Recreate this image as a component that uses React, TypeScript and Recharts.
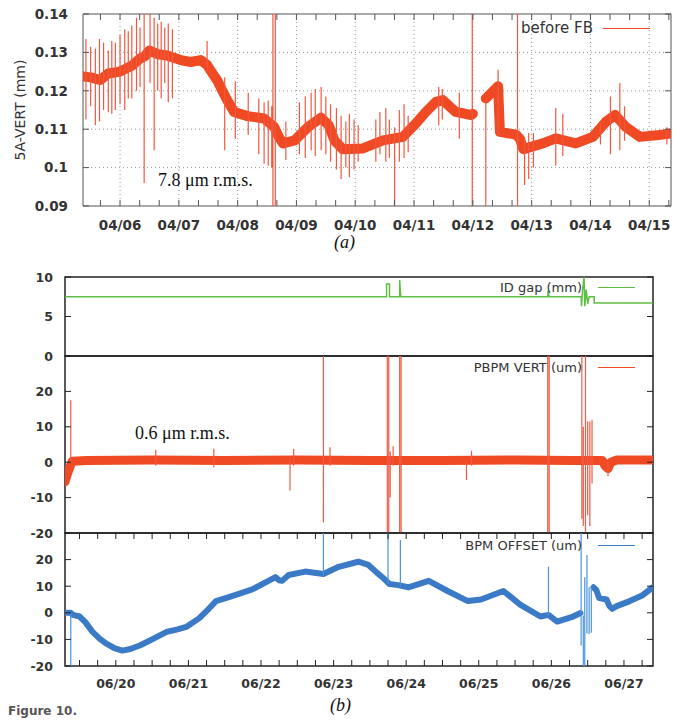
import React from "react"
import { LineChart, Line, XAxis, YAxis, CartesianGrid, ReferenceArea, Legend } from "recharts"

const SANS = "'DejaVu Sans', Verdana, sans-serif"
const SERIF = "'Liberation Serif', 'Times New Roman', serif"
const INK = "#333"

// ---- (a) 5A-VERT before feedback, April (day of month) ----
const aDays = [
  5.37, 5.5, 5.66, 5.8, 6.0, 6.2, 6.34, 6.42, 6.5, 6.65, 6.8, 7.03, 7.2, 7.37, 7.48, 7.56, 7.65, 7.74, 7.82, 7.94,
  8.17, 8.45, 8.62, 8.7, 8.77, 8.97, 9.2, 9.42, 9.55, 9.65, 9.79, 10.13, 10.47, 10.81, 11.03, 11.2, 11.37, 11.49, 11.6, 11.71,
  11.97, 12.0, 12.1, 12.22, 12.39, 12.43, 12.46, 12.73, 12.8, 12.86, 13.19, 13.41, 13.75, 14.04, 14.26, 14.42, 14.6, 14.84, 15.12, 15.37,
]
const aVert = [
  0.1237, 0.1235, 0.1228, 0.1245, 0.125, 0.1265, 0.1284, 0.129, 0.1305, 0.1295, 0.1292, 0.128, 0.1275, 0.128, 0.1267, 0.1248, 0.1228, 0.12, 0.1176, 0.1145,
  0.1134, 0.1128, 0.1106, 0.108, 0.1063, 0.1071, 0.1106, 0.113, 0.111, 0.107, 0.1048, 0.105, 0.1071, 0.108, 0.1115, 0.1145, 0.1171, 0.1176, 0.116, 0.1145,
  0.1137, 0.114, null, 0.118, 0.1206, 0.1212, 0.1093, 0.1086, 0.1075, 0.1048, 0.1063, 0.1076, 0.1063, 0.108, 0.1119, 0.1137, 0.1106, 0.108, 0.1084, 0.1089,
]
// [day, low, high]
const aSpikes = [
  [5.42, 0.1125, 0.1335], [5.5, 0.116, 0.1315], [5.58, 0.111, 0.131], [5.65, 0.112, 0.1335], [5.72, 0.115, 0.1325],
  [5.8, 0.1145, 0.1305], [5.86, 0.114, 0.133], [5.92, 0.115, 0.1325], [6.0, 0.1165, 0.1345], [6.08, 0.115, 0.136],
  [6.14, 0.118, 0.1355], [6.2, 0.118, 0.137], [6.28, 0.12, 0.139], [6.34, 0.121, 0.1365], [6.41, 0.096, 0.14],
  [6.51, 0.122, 0.14], [6.58, 0.1045, 0.139], [6.64, 0.12, 0.1375], [6.7, 0.118, 0.138], [6.76, 0.122, 0.1365],
  [6.82, 0.117, 0.1375], [6.89, 0.118, 0.136], [7.48, 0.125, 0.133], [7.78, 0.1045, 0.1235], [7.96, 0.1075, 0.1225],
  [8.18, 0.1085, 0.1195], [8.36, 0.1035, 0.118], [8.45, 0.101, 0.117], [8.52, 0.1005, 0.1175], [8.58, 0.1, 0.116],
  [8.6, 0.09, 0.14], [8.64, 0.09, 0.14], [8.82, 0.102, 0.112], [9.05, 0.1035, 0.117], [9.15, 0.1025, 0.1185],
  [9.25, 0.1045, 0.1195], [9.32, 0.103, 0.1205], [9.42, 0.1045, 0.121], [9.5, 0.1035, 0.1185], [9.58, 0.1015, 0.1165],
  [9.68, 0.0995, 0.1155], [9.76, 0.097, 0.1135], [9.84, 0.1, 0.112], [9.9, 0.0975, 0.114], [9.98, 0.0995, 0.1125],
  [10.05, 0.1015, 0.111], [10.35, 0.1015, 0.1125], [10.42, 0.1035, 0.1145], [10.52, 0.1015, 0.1155], [10.58, 0.1025, 0.1125],
  [10.67, 0.09, 0.1105], [10.75, 0.1015, 0.115], [10.83, 0.1025, 0.1165], [10.9, 0.104, 0.1135], [11.42, 0.111, 0.121],
  [11.48, 0.1125, 0.1205], [11.77, 0.1075, 0.1195], [11.99, 0.09, 0.14], [12.22, 0.09, 0.118], [12.43, 0.1085, 0.1255],
  [12.76, 0.09, 0.14], [12.88, 0.0955, 0.108], [12.95, 0.097, 0.109], [13.03, 0.1, 0.109], [13.41, 0.1005, 0.1155],
  [13.53, 0.103, 0.114], [14.17, 0.106, 0.1115], [14.34, 0.1035, 0.1185], [14.5, 0.1045, 0.122], [14.58, 0.107, 0.116],
  [15.3, 0.106, 0.1105],
]
const aDayTicks = [6, 7, 8, 9, 10, 11, 12, 13, 14, 15]
const aDayLabels = ["04/06", "04/07", "04/08", "04/09", "04/10", "04/11", "04/12", "04/13", "04/14", "04/15"]
const aYTicks = [0.09, 0.1, 0.11, 0.12, 0.13, 0.14]
const aYLabels = ["0.09", "0.1", "0.11", "0.12", "0.13", "0.14"]
const aGridY = [0.1, 0.11, 0.12, 0.13]

// ---- (b) June (day of month) ----
const gapDays = [19.3, 23.73, 23.73, 23.77, 23.77, 23.91, 23.91, 23.925, 25.95, 25.955, 25.97, 26.41, 26.415, 26.43, 26.45, 26.46, 26.48, 26.5, 26.52, 26.59, 26.59, 27.4]
const gapMm = [7.5, 7.5, 9.1, 9.1, 7.5, 7.5, 9.6, 7.5, 7.5, 8.3, 7.5, 7.5, 6.3, 8.4, 10, 6.3, 8.4, 6.6, 7.5, 7.5, 6.7, 6.7]

const pbpmDays = [19.3, 19.33, 19.36, 19.4, 19.6, 20.5, 21.5, 22.5, 23.5, 24.5, 25.5, 26.3, 26.7, 26.74, 26.78, 26.82, 26.9, 27.4]
const pbpmVert = [-5.5, -3.5, -1.8, 0.3, 0.5, 0.6, 0.5, 0.6, 0.5, 0.5, 0.6, 0.5, 0.5, -1, -1.8, 0, 0.6, 0.6]
const pbpmSpikes = [
  [19.38, 0, 17.5], [20.55, -1, 3.5], [21.35, -1.5, 3.8], [22.4, -8, 1], [22.45, -1, 3.8], [22.86, -17, 30],
  [22.95, -1, 4.2], [23.74, -20, 30], [23.76, -20, 30], [23.78, -10, 3], [23.82, -1, 4.5], [23.91, -20, 30],
  [23.93, -20, 30], [24.83, -5, 0], [24.9, -1, 3.2], [25.95, -20, 30], [25.97, -20, 30], [26.42, -16, 30],
  [26.44, -18, 10], [26.47, -20, 30], [26.5, -15, 11.5], [26.53, -18, 11.5], [26.56, -6, 12], [26.78, -4, 0],
]

const bpmDays = [
  19.3, 19.38, 19.41, 19.5, 19.58, 19.68, 19.78, 19.87, 19.98, 20.09, 20.2, 20.33, 20.5, 20.7, 20.85, 20.97, 21.15, 21.28, 21.38, 21.6,
  21.88, 22.07, 22.2, 22.25, 22.29, 22.38, 22.61, 22.86, 23.07, 23.34, 23.48, 23.6, 23.7, 23.77, 23.89, 24.03, 24.31, 24.57, 24.85, 25.03,
  25.34, 25.57, 25.85, 25.96, 26.08, 26.3, 26.4, 26.45, 26.58, 26.62, 26.66, 26.76, 26.8, 26.84, 26.9, 27.08, 27.25, 27.4,
]
const bpmOffset = [
  0, 0, -0.8, -1.4, -3.5, -7.2, -9.8, -11.6, -13.3, -14.2, -13.6, -12.3, -10, -7.2, -6.2, -5.3, -2, 1.5, 4.4, 6.3,
  8.8, 11.5, 13.4, 12.2, 12, 14.2, 15.5, 14.6, 17.3, 19.2, 18, 15, 12.7, 10.8, 10.4, 9.6, 12, 8.2, 4.4, 5,
  8.2, 3.1, -1.4, -0.8, -3.3, -1.4, -0.1, null, 9.6, 8.5, 5.5, 5, 2.5, 1.5, 2.5, 4.4, 6.5, 9.6,
]
const bpmSpikes = [
  [19.38, -20, 0], [22.86, 14, 30], [23.75, 10.8, 30], [23.92, 10, 27.4], [25.96, -0.8, 17.3], [26.41, -12.3, 30],
  [26.44, -20, -1], [26.46, -20, 13.4], [26.49, -7.8, 21.7], [26.52, -8, 9.6], [26.55, -7.5, 9.6],
]

const bDayTicks = [20, 21, 22, 23, 24, 25, 26, 27]
const bDayLabels = ["06/20", "06/21", "06/22", "06/23", "06/24", "06/25", "06/26", "06/27"]
const gapYTicks = [0, 5, 10]
const offsetYTicks = [-20, -10, 0, 10, 20, 30]

const A_DOMAIN = [5.37, 15.37]
const B_DOMAIN = [19.3, 27.4]

const toRows = (xs: number[], ys: (number | null)[]) => xs.map((x, i) => ({ x, y: ys[i] }))
const toSpikes = (sp: number[][]) => sp.flatMap(([x, lo, hi]) => [{ x, y: lo }, { x, y: hi }, { x, y: null }])
const withMinor = (majors: number[], parts: number, dom: number[]) => {
  const out: number[] = []
  ;[majors[0] - 1, ...majors].forEach((d) => {
    for (let k = 0; k < parts; k++) out.push(d + k / parts)
  })
  return out.filter((v) => v >= dom[0] && v <= dom[1])
}
const labelMap = (vals: number[], labels: string[]) => new Map(vals.map((v, i) => [v, labels[i]]))

const yTick = (labels: Map<number, string>, plotW: number, fs: number, gap: number, stroke: string) => (p: any) => {
  const txt = labels.get(p.payload.value) ?? ""
  return (
    <g>
      <line x1={p.x} x2={p.x + 6} y1={p.y} y2={p.y} stroke={stroke} />
      <line x1={p.x + plotW - 6} x2={p.x + plotW} y1={p.y} y2={p.y} stroke={stroke} />
      <text x={p.x - gap} y={p.y} dy="0.36em" textAnchor="end" fontFamily={SANS} fontWeight="bold" fontSize={fs} fill={INK}>
        {txt}
      </text>
    </g>
  )
}

const xTick = (labels: Map<number, string>, plotH: number, fs: number, dy: number, stroke: string) => (p: any) => {
  const txt = labels.get(p.payload.value)
  return (
    <g>
      <line x1={p.x} x2={p.x} y1={p.y} y2={p.y - 6} stroke={stroke} />
      <line x1={p.x} x2={p.x} y1={p.y - plotH} y2={p.y - plotH + 6} stroke={stroke} />
      {txt && (
        <text x={p.x} y={p.y + dy} dy="0.36em" textAnchor="middle" fontFamily={SANS} fontWeight="bold" fontSize={fs} fill={INK}>
          {txt}
        </text>
      )}
    </g>
  )
}

const legendKey = (label: string, color: string, fs: number, gap: number, len: number) => () => (
  <div
    style={{
      display: "flex",
      justifyContent: "flex-end",
      alignItems: "center",
      height: 18,
      fontFamily: SANS,
      fontSize: fs,
      color: INK,
    }}
  >
    <span>{label}</span>
    <span style={{ width: len, marginLeft: gap, borderTop: `1.5px solid ${color}` }} />
  </div>
)

const note = (top: number, left: number, size: number, italic = false): React.CSSProperties => ({
  position: "absolute",
  top,
  left,
  fontFamily: SERIF,
  fontSize: size,
  fontStyle: italic ? "italic" : "normal",
  lineHeight: "20px",
  color: "#111",
  whiteSpace: "nowrap",
})

export default function App() {
  const aBand = toRows(aDays, aVert)
  const aSpikeRows = toSpikes(aSpikes)
  const gapRows = toRows(gapDays, gapMm)
  const pbpmRows = toRows(pbpmDays, pbpmVert)
  const pbpmSpikeRows = toSpikes(pbpmSpikes)
  const bpmRows = toRows(bpmDays, bpmOffset)
  const bpmSpikeRows = toSpikes(bpmSpikes)

  const aXTicks = withMinor(aDayTicks, 3, A_DOMAIN)
  const bXTicks = withMinor(bDayTicks, 4, B_DOMAIN)
  const aXLabels = labelMap(aDayTicks, aDayLabels)
  const bXLabels = labelMap(bDayTicks, bDayLabels)
  const aYLab = labelMap(aYTicks, aYLabels)
  const gapYLab = labelMap(gapYTicks, gapYTicks.map(String))
  const midYLab = labelMap(offsetYTicks, ["-20", "-10", "0", "10", "20", ""])
  const botYLab = labelMap(offsetYTicks, ["-20", "-10", "0", "10", "20", ""])

  const bMargin = { right: 33, left: 15 }
  const B = "#222"
  const band = { dot: false, isAnimationActive: false, strokeLinejoin: "round" as const, strokeLinecap: "round" as const }

  return (
    <div style={{ position: "absolute", left: 0, top: 0, width: 686, height: 720, overflow: "hidden", background: "#fff" }}>
      {/* (a) */}
      <div style={{ position: "absolute", left: 0, top: 0 }}>
        <LineChart width={686} height={250} margin={{ top: 14, right: 15, bottom: 0, left: 23 }}>
          <CartesianGrid stroke="#999" strokeDasharray="1 3" verticalValues={aDayTicks} horizontalValues={aGridY} />
          <XAxis
            type="number"
            dataKey="x"
            domain={A_DOMAIN}
            allowDataOverflow
            ticks={aXTicks}
            interval={0}
            height={44}
            tickSize={0}
            tickMargin={0}
            axisLine={false}
            tickLine={false}
            tick={xTick(aXLabels, 192, 13.5, 19, "#555")}
          />
          <YAxis
            type="number"
            domain={[0.09, 0.14]}
            allowDataOverflow
            ticks={aYTicks}
            interval={0}
            width={60}
            tickSize={0}
            tickMargin={0}
            axisLine={false}
            tickLine={false}
            tick={yTick(aYLab, 588, 13.5, 15, "#555")}
            label={{
              value: "5A-VERT (mm)",
              content: (p: any) => {
                const cx = p.viewBox.x - 3
                const cy = p.viewBox.y + p.viewBox.height / 2
                return (
                  <text x={cx} y={cy} transform={`rotate(-90 ${cx} ${cy})`} textAnchor="middle" dy="0.36em" fontFamily={SANS} fontSize={14} fill={INK}>
                    5A-VERT (mm)
                  </text>
                )
              },
            }}
          />
          <Line data={aBand} dataKey="y" name="before FB" stroke="#ef4a23" strokeWidth={10} {...band} />
          <Line data={aSpikeRows} dataKey="y" stroke="#f2583f" strokeWidth={1.2} dot={false} isAnimationActive={false} legendType="none" />
          <ReferenceArea x1={A_DOMAIN[0]} x2={A_DOMAIN[1]} y1={0.09} y2={0.14} fill="none" stroke="#555" strokeWidth={1} />
          <Legend
            layout="horizontal"
            verticalAlign="middle"
            align="center"
            content={legendKey("before FB", "#ef4a23", 15, 10, 47)}
            wrapperStyle={{ top: 19, left: 450, width: 200 }}
          />
        </LineChart>
      </div>

      {/* (b) ID gap */}
      <div style={{ position: "absolute", left: 0, top: 252 }}>
        <LineChart width={686} height={114} margin={{ top: 25, bottom: 10, ...bMargin }}>
          <XAxis type="number" dataKey="x" domain={B_DOMAIN} allowDataOverflow hide />
          <YAxis
            type="number"
            domain={[0, 10]}
            allowDataOverflow
            ticks={gapYTicks}
            interval={0}
            width={50}
            tickSize={0}
            tickMargin={0}
            axisLine={false}
            tickLine={false}
            tick={yTick(gapYLab, 588, 12.5, 12, B)}
          />
          <Line data={gapRows} dataKey="y" stroke="#60bd44" strokeWidth={1.5} dot={false} isAnimationActive={false} />
          <ReferenceArea x1={B_DOMAIN[0]} x2={B_DOMAIN[1]} y1={0} y2={10} fill="none" stroke={B} strokeWidth={1.5} />
          <Legend
            layout="horizontal"
            verticalAlign="middle"
            align="center"
            content={legendKey("ID gap (mm)", "#60bd44", 13, 16, 37)}
            wrapperStyle={{ top: 26, left: 435, width: 200 }}
          />
        </LineChart>
      </div>

      {/* (b) PBPM VERT */}
      <div style={{ position: "absolute", left: 0, top: 336 }}>
        <LineChart width={686} height={217} margin={{ top: 20, bottom: 20, ...bMargin }}>
          <XAxis type="number" dataKey="x" domain={B_DOMAIN} allowDataOverflow hide />
          <YAxis
            type="number"
            domain={[-20, 30]}
            allowDataOverflow
            ticks={offsetYTicks}
            interval={0}
            width={50}
            tickSize={0}
            tickMargin={0}
            axisLine={false}
            tickLine={false}
            tick={yTick(midYLab, 588, 12.5, 12, B)}
          />
          <Line data={pbpmRows} dataKey="y" stroke="#ef4a23" strokeWidth={9} {...band} />
          <Line data={pbpmSpikeRows} dataKey="y" stroke="#f25a45" strokeWidth={1.2} dot={false} isAnimationActive={false} />
          <ReferenceArea x1={B_DOMAIN[0]} x2={B_DOMAIN[1]} y1={-20} y2={30} fill="none" stroke={B} strokeWidth={1.5} />
          <Legend
            layout="horizontal"
            verticalAlign="middle"
            align="center"
            content={legendKey("PBPM VERT (um)", "#ef4a23", 13, 16, 37)}
            wrapperStyle={{ top: 22, left: 435, width: 200 }}
          />
        </LineChart>
      </div>

      {/* (b) BPM OFFSET */}
      <div style={{ position: "absolute", left: 0, top: 513 }}>
        <LineChart width={686} height={190} margin={{ top: 20, bottom: 0, ...bMargin }}>
          <XAxis
            type="number"
            dataKey="x"
            domain={B_DOMAIN}
            allowDataOverflow
            ticks={bXTicks}
            interval={0}
            height={37}
            tickSize={0}
            tickMargin={0}
            axisLine={false}
            tickLine={false}
            tick={xTick(bXLabels, 133, 12.5, 17, B)}
          />
          <YAxis
            type="number"
            domain={[-20, 30]}
            allowDataOverflow
            ticks={offsetYTicks}
            interval={0}
            width={50}
            tickSize={0}
            tickMargin={0}
            axisLine={false}
            tickLine={false}
            tick={yTick(botYLab, 588, 12.5, 12, B)}
          />
          <Line data={bpmRows} dataKey="y" stroke="#3a7ac6" strokeWidth={6} {...band} />
          <Line data={bpmSpikeRows} dataKey="y" stroke="#4b94dc" strokeWidth={1.2} dot={false} isAnimationActive={false} />
          <ReferenceArea x1={B_DOMAIN[0]} x2={B_DOMAIN[1]} y1={-20} y2={30} fill="none" stroke={B} strokeWidth={1.5} />
          <Legend
            layout="horizontal"
            verticalAlign="middle"
            align="center"
            content={legendKey("BPM OFFSET (um)", "#3a7ac6", 13, 16, 37)}
            wrapperStyle={{ top: 23, left: 435, width: 200 }}
          />
        </LineChart>
      </div>

      <div style={note(170, 158, 18)}>7.8 μm r.m.s.</div>
      <div style={note(423, 135, 18)}>0.6 μm r.m.s.</div>
      <div style={note(232, 334, 18, true)}>(a)</div>
      <div style={note(695, 330, 18, true)}>(b)</div>
      <div style={{ position: "absolute", left: 8, top: 704, fontFamily: SANS, fontWeight: "bold", fontSize: 12, lineHeight: "14px", color: "#555" }}>
        Figure 10.
      </div>
    </div>
  )
}
